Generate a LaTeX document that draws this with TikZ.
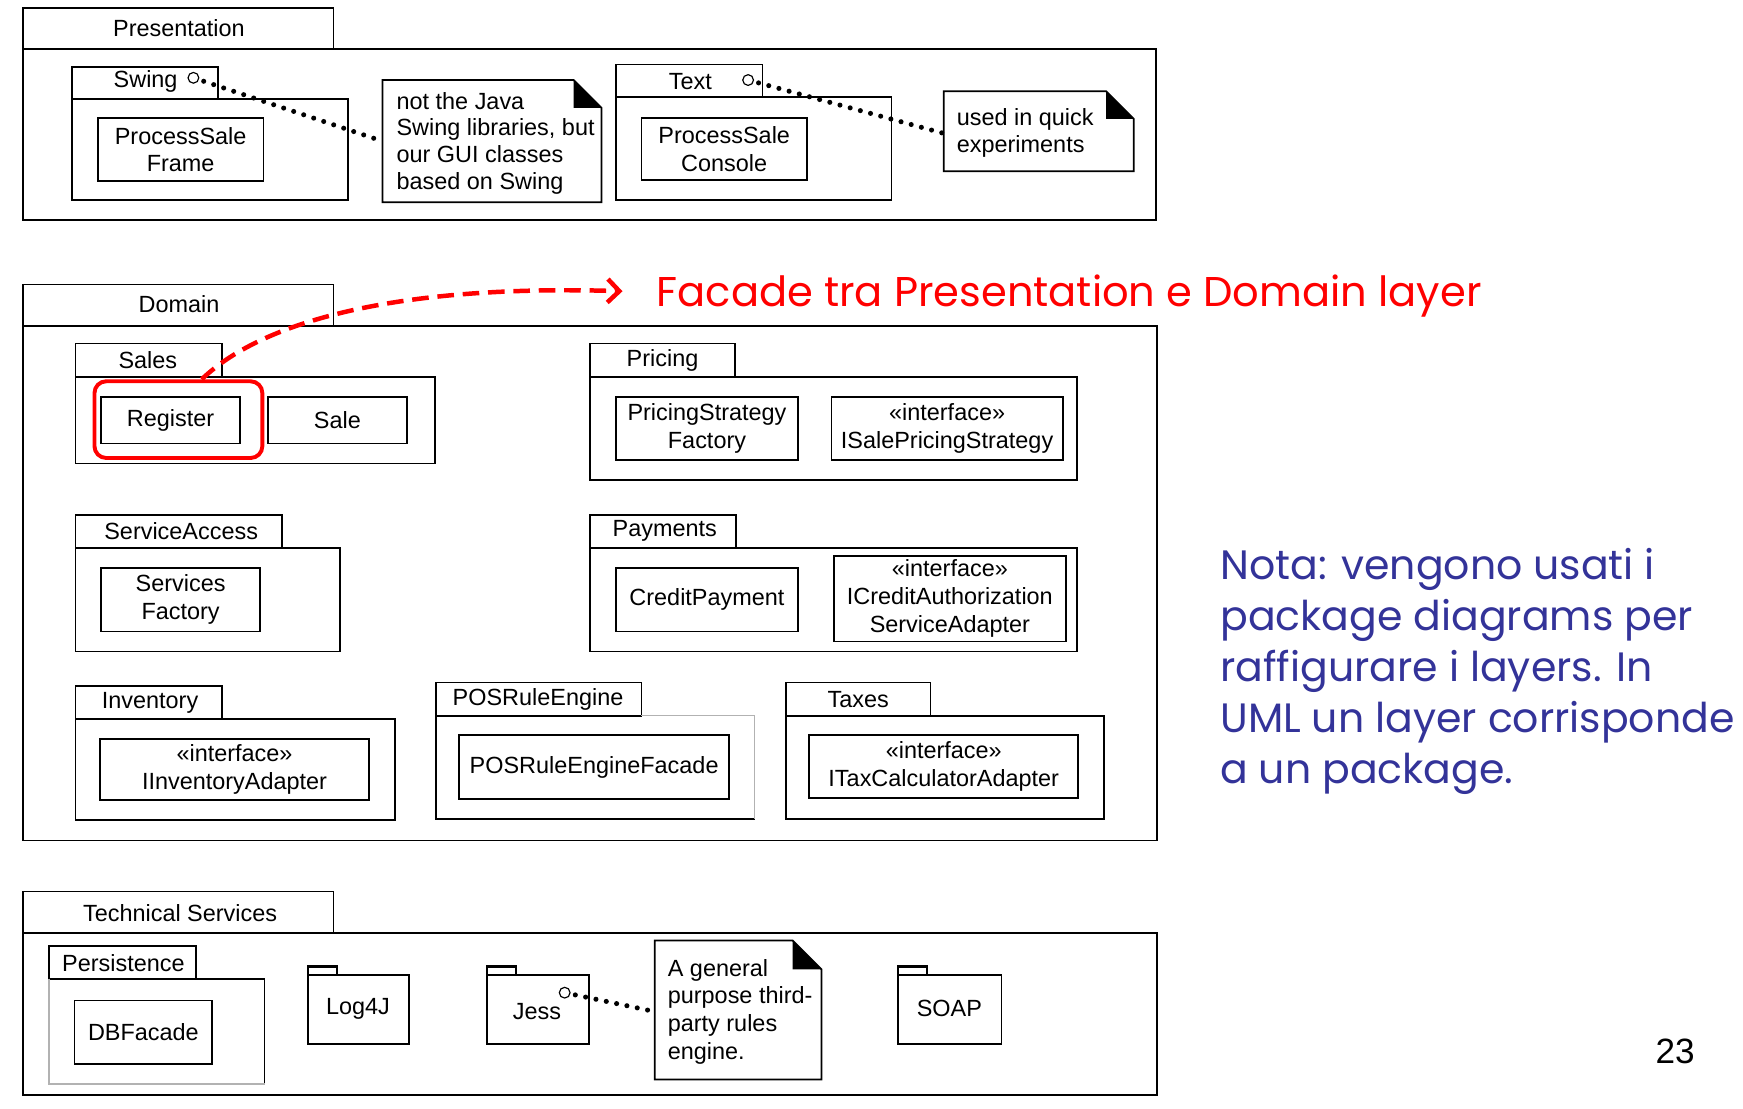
\documentclass[tikz,border=0pt]{standalone}
\usepackage{fontspec}
\setmainfont{Liberation Sans}
\newfontfamily\gothic{Poppins}
\usetikzlibrary{arrows.meta}
\definecolor{notablue}{RGB}{51,51,153}
\begin{document}
\begin{tikzpicture}[x=0.02cm, y=-0.02cm, line width=0.9pt,
        every node/.style={font=\fontsize{12}{14.2}\selectfont, inner sep=0pt},
        cls/.style 2 args={draw, align=center, minimum width=#1*0.02cm, minimum height=#2*0.02cm},
        memo/.style={align=left, anchor=north west, font=\fontsize{12}{13.7}\selectfont},
        port/.style={draw, circle, minimum size=5.5pt, line width=0.6pt},
        tie/.style={line width=2.6pt, line cap=round, dash pattern=on 0pt off 5.4pt, shorten <=2.5pt}]
    \useasboundingbox (0,0) rectangle (1568,997);

    \draw (21,7) rectangle (300,44);
    \draw (21,44) rectangle (1040,198);
    \node (pres) at (161,25) {Presentation};

    \draw (65,60) rectangle (196,89);
    \draw (65,89) rectangle (313,180);
    \node (swing) at (131,73) {Swing};
    \node[port] (swingport) at (174,70) {};
    \node[cls={149}{57}] (frame) at (162.5,134.5) {ProcessSale\\Frame};

    \draw (344,72) -- (516,72) -- (541,97) -- (541,182) -- (344,182) -- cycle;
    \fill (516,72) -- (541,97) -- (516,97) -- cycle;
    \node[memo] (swingnote) at (356,82) {not the Java\\Swing libraries, but\\our GUI classes\\based on Swing};
    \coordinate (swingnotew) at (344,127);
    \draw[tie] (swingport) -- (swingnotew);

    \draw (554,58) rectangle (686,87);
    \draw (554,87) rectangle (802,180);
    \node (textpkg) at (621,73) {Text};
    \node[port] (textport) at (673,72) {};
    \node[cls={149}{56}] (console) at (651.5,134) {ProcessSale\\Console};

    \draw (849,82) -- (995,82) -- (1020,107) -- (1020,154) -- (849,154) -- cycle;
    \fill (995,82) -- (1020,107) -- (995,107) -- cycle;
    \node[memo] (textnote) at (860,97) {used in quick\\experiments};
    \coordinate (textnotew) at (849,120);
    \draw[tie] (textport) -- (textnotew);

    \draw (21,256) rectangle (300,293);
    \draw (21,293) rectangle (1041,756);
    \node (domain) at (161,274) {Domain};

    \draw (68,309) rectangle (200,339);
    \draw (68,339) rectangle (391,417);
    \node (sales) at (133,324) {Sales};
    \node[cls={125}{42}] (register) at (153.5,378) {Register};
    \node[cls={125}{42}] (sale) at (303.5,378) {Sale};
    \node[draw=red, line width=2pt, rounded corners=6pt, minimum width=151*0.02cm, minimum height=69*0.02cm] (regsel) at (160.5,377.5) {};

    \node[anchor=base west, text=red, font=\gothic\fontsize{21.3}{26}\selectfont] (facade) at (590,276) {Facade tra Presentation e Domain layer};
    \coordinate (facadetip) at (560,262);
    \draw[red, line width=2.3pt, dash pattern=on 8.5pt off 4.5pt, -{Straight Barb[length=6pt, width=12pt]}] (regsel.60) .. controls (240,285) and (370,256) .. (facadetip);

    \draw (531,309) rectangle (661,339);
    \draw (531,339) rectangle (969,432);
    \node (pricing) at (596,324) {Pricing};
    \node[cls={164}{57}] (psfactory) at (636,385.5) {PricingStrategy\\Factory};
    \node[cls={208}{57}] (isps) at (852,385.5) {«interface»\\ISalePricingStrategy};

    \draw (68,463) rectangle (254,493);
    \draw (68,493) rectangle (306,586);
    \node (svcaccess) at (163,478) {ServiceAccess};
    \node[cls={143}{57}] (svcfactory) at (162.5,539.5) {Services\\Factory};

    \draw (531,463) rectangle (662,493);
    \draw (531,493) rectangle (969,586);
    \node (payments) at (598,478) {Payments};
    \node[cls={164}{57}] (creditpay) at (636,539.5) {CreditPayment};
    \node[cls={209}{77}] (icasa) at (854.5,538.5) {«interface»\\ICreditAuthorization\\ServiceAdapter};

    \draw (68,617) rectangle (200,647);
    \draw (68,647) rectangle (355,738);
    \node (inventory) at (135,632) {Inventory};
    \node[cls={242}{55}] (iinv) at (211,692.5) {«interface»\\IInventoryAdapter};

    \draw (392,614) rectangle (577,644);
    \draw (577,644) -- (392,644) -- (392,737) -- (679,737);
    \draw[gray!60, line width=0.6pt] (577,644) -- (679,644) -- (679,737);
    \node (posre) at (484,629) {POSRuleEngine};
    \node[cls={243}{58}] (posfacade) at (534.5,690) {POSRuleEngineFacade};

    \draw (707,614) rectangle (837,644);
    \draw (707,644) rectangle (993,737);
    \node (taxes) at (772,629) {Taxes};
    \node[cls={242}{57}] (itca) at (849,689.5) {«interface»\\ITaxCalculatorAdapter};

    \draw (21,802) rectangle (300,839);
    \draw (21,839) rectangle (1041,985);
    \node (techsvc) at (162,821) {Technical Services};

    \draw (44,851) rectangle (176,881);
    \draw (44,881) -- (238,881) -- (238,975);
    \draw[gray!60] (44,881) -- (44,975) -- (238,975);
    \node (persist) at (111,866) {Persistence};
    \node[cls={124}{57}] (dbfacade) at (129,928.5) {DBFacade};

    \draw (277,869) rectangle (303,877);
    \draw[line width=1.8pt] (277,869.5) -- (303,869.5);
    \draw (277,877) rectangle (368,939);
    \node (log4j) at (322,908) {Log4J};

    \draw (438,869) rectangle (464,877);
    \draw[line width=1.8pt] (438,869.5) -- (464,869.5);
    \draw (438,877) rectangle (530,939);
    \node (jess) at (483,910) {Jess};
    \node[port] (jessport) at (508,893) {};

    \draw (589,846) -- (713,846) -- (739,872) -- (739,971) -- (589,971) -- cycle;
    \fill (713,846) -- (739,872) -- (713,872) -- cycle;
    \node[memo, font=\fontsize{12}{14.2}\selectfont] (jessnote) at (600,862) {A general\\purpose third-\\party rules\\engine.};
    \coordinate (jessnotew) at (589,910);
    \draw[tie] (jessport) -- (jessnotew);

    \draw (808,869) rectangle (834,877);
    \draw[line width=1.8pt] (808,869.5) -- (834,869.5);
    \draw (808,877) rectangle (901,939);
    \node (soap) at (854,907) {SOAP};

    \node[anchor=north west, align=left, text=notablue, font=\gothic\fontsize{21}{26.2}\selectfont] (nota) at (1097,492) {Nota: vengono usati i\\package diagrams per\\raffigurare i layers. In\\UML un layer corrisponde\\a un package.};

    \node[font=\fontsize{18}{20}\selectfont] (pagenum) at (1507,946) {23};
\end{tikzpicture}
\end{document}
